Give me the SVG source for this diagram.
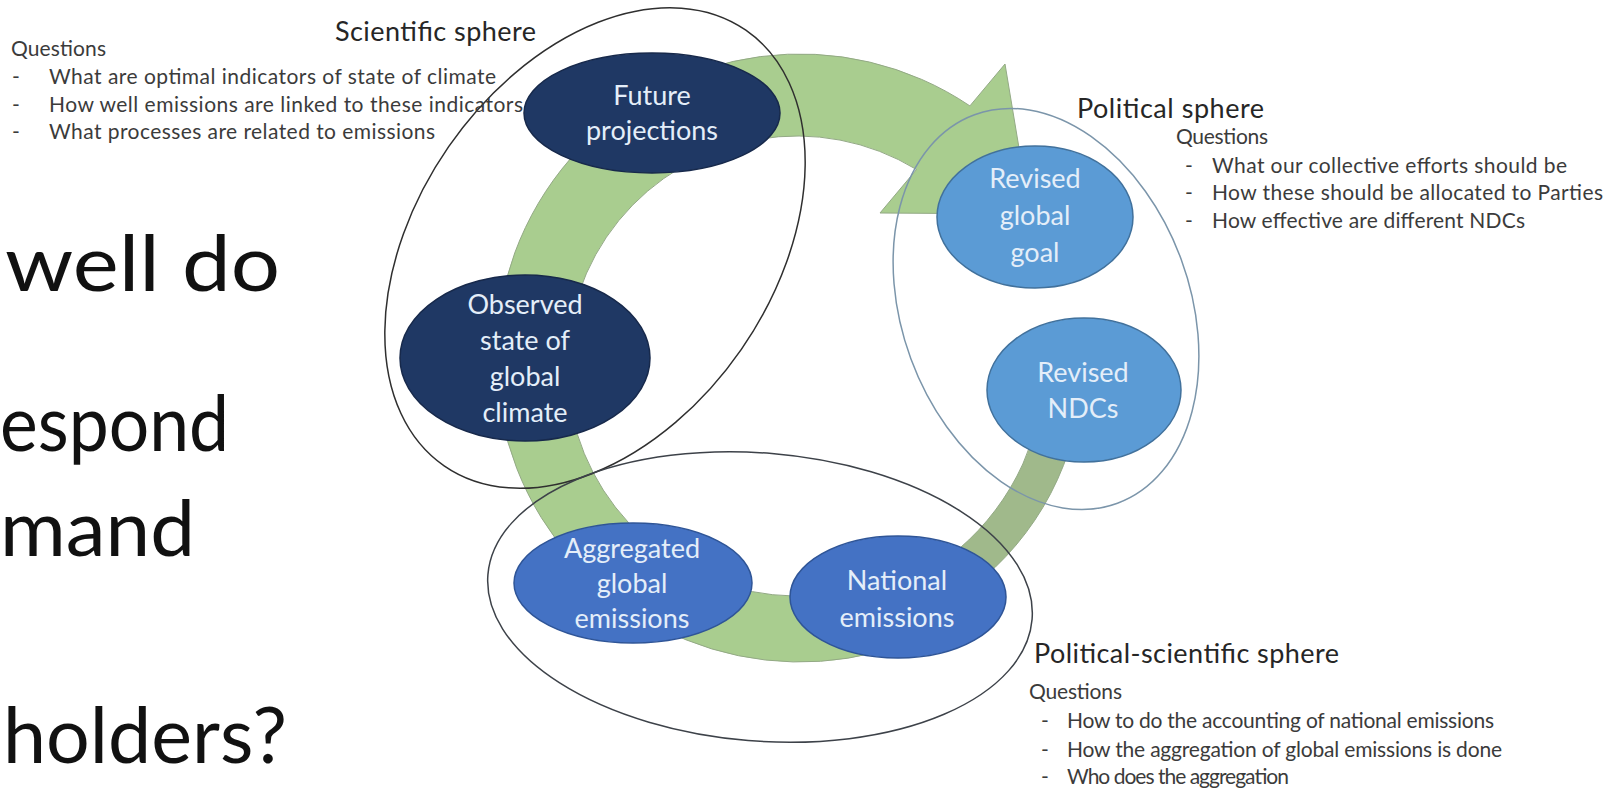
<svg xmlns="http://www.w3.org/2000/svg" width="1608" height="788" viewBox="0 0 1608 788">
<defs>
<style>
.lbl{font-family:Lato,"Liberation Sans",sans-serif;font-size:27px;fill:#e4eef9;text-anchor:middle}
.q{font-family:Lato,"Liberation Sans",sans-serif;font-size:21px;fill:#3b3b3b}
.ttl{font-family:Lato,"Liberation Sans",sans-serif;font-size:27px;fill:#262626}
.big{font-family:Lato,"Liberation Sans",sans-serif;font-size:78px;fill:#111}
.dark{fill:#1f3864;stroke:#17294b;stroke-width:1.5}
.mid{fill:#4472c4;stroke:#2f5597;stroke-width:1.5}
.light{fill:#5b9bd5;stroke:#41719c;stroke-width:1.5}
.sphere{fill:none;stroke-width:1.5}
.band{stroke:#93a985;stroke-width:1}
</style>
</defs>
<rect width="1608" height="788" fill="#fff"/>

<!-- heading text partly hidden on the left -->
<g id="heading">
<text class="big" x="5" y="291" textLength="275" lengthAdjust="spacingAndGlyphs">well do</text>
<text class="big" x="0" y="451" textLength="229" lengthAdjust="spacingAndGlyphs">espond</text>
<text class="big" x="0" y="556" textLength="195" lengthAdjust="spacingAndGlyphs">mand</text>
<text class="big" x="3" y="763" textLength="284" lengthAdjust="spacingAndGlyphs">holders?</text>
</g>

<!-- circular cycle arrow -->
<g id="connectors">
<path class="band" fill="#a0b98b" d="M1076.8 421 A284 284 0 0 1 932.3 612.7 L914.5 579.2 A246 246 0 0 0 1039.6 413.1 Z"/>
<path class="band" fill="#a9cd8f" d="M974.4 607 A304 304 0 1 1 969.9 105.9 L1005 64 L1030 214 L880 213 L916.5 169.5 A230 230 0 1 0 928.9 554.4 Z"/>
</g>

<g id="node-future">
<ellipse class="dark" cx="652" cy="113" rx="128" ry="60"/>
<text class="lbl" x="652" y="105">Future</text>
<text class="lbl" x="652" y="140">projections</text>
</g>
<g id="node-observed">
<ellipse class="dark" cx="525" cy="358" rx="125" ry="83"/>
<text class="lbl" x="525" y="314">Observed</text>
<text class="lbl" x="525" y="350">state of</text>
<text class="lbl" x="525" y="386">global</text>
<text class="lbl" x="525" y="422">climate</text>
</g>
<g id="node-aggregated">
<ellipse class="mid" cx="633" cy="583" rx="119" ry="60"/>
<text class="lbl" x="632" y="558">Aggregated</text>
<text class="lbl" x="632" y="593">global</text>
<text class="lbl" x="632" y="628">emissions</text>
</g>
<g id="node-national">
<ellipse class="mid" cx="898" cy="597" rx="108" ry="61"/>
<text class="lbl" x="897" y="590">National</text>
<text class="lbl" x="897" y="627">emissions</text>
</g>
<g id="node-goal">
<ellipse class="light" cx="1035" cy="217" rx="98" ry="71"/>
<text class="lbl" x="1035" y="188">Revised</text>
<text class="lbl" x="1035" y="225">global</text>
<text class="lbl" x="1035" y="262">goal</text>
</g>
<g id="node-ndcs">
<ellipse class="light" cx="1084" cy="390" rx="97" ry="72"/>
<text class="lbl" x="1083" y="382">Revised</text>
<text class="lbl" x="1083" y="418">NDCs</text>
</g>

<!-- sphere boundaries -->
<g id="sphere-scientific">
<ellipse class="sphere" stroke="#2f2f2f" cx="595" cy="248" rx="265" ry="178" transform="rotate(-55.3 595 248)"/>
<text class="ttl" x="335" y="41" textLength="201">Scientific sphere</text>
<text class="q" x="11" y="56" textLength="95">Questions</text>
<text class="q" x="12" y="84">-</text>
<text class="q" x="49" y="84" textLength="447">What are optimal indicators of state of climate</text>
<text class="q" x="12" y="112">-</text>
<text class="q" x="49" y="112" textLength="474">How well emissions are linked to these indicators</text>
<text class="q" x="12" y="139">-</text>
<text class="q" x="49" y="139" textLength="386">What processes are related to emissions</text>
</g>
<g id="sphere-political">
<ellipse class="sphere" stroke="#7b95aa" cx="1046" cy="309" rx="207" ry="144" transform="rotate(69.8 1046 309)"/>
<text class="ttl" x="1077" y="118" textLength="187">Political sphere</text>
<text class="q" x="1176" y="144" textLength="92">Questions</text>
<text class="q" x="1185" y="173">-</text>
<text class="q" x="1212" y="173" textLength="355">What our collective efforts should be</text>
<text class="q" x="1185" y="200">-</text>
<text class="q" x="1212" y="200" textLength="391">How these should be allocated to Parties</text>
<text class="q" x="1185" y="228">-</text>
<text class="q" x="1212" y="228" textLength="313">How effective are different NDCs</text>
</g>
<g id="sphere-political-scientific">
<ellipse class="sphere" stroke="#3d4249" cx="760" cy="597" rx="273" ry="144" transform="rotate(4.7 760 597)"/>
<text class="ttl" x="1034" y="663" textLength="305">Political-scientific sphere</text>
<text class="q" x="1029" y="699" textLength="93">Questions</text>
<text class="q" x="1041" y="728">-</text>
<text class="q" x="1067" y="728" textLength="427">How to do the accounting of national emissions</text>
<text class="q" x="1041" y="757">-</text>
<text class="q" x="1067" y="757" textLength="435">How the aggregation of global emissions is done</text>
<text class="q" x="1041" y="784">-</text>
<text class="q" x="1067" y="784" textLength="222">Who does the aggregation</text>
</g>
</svg>
